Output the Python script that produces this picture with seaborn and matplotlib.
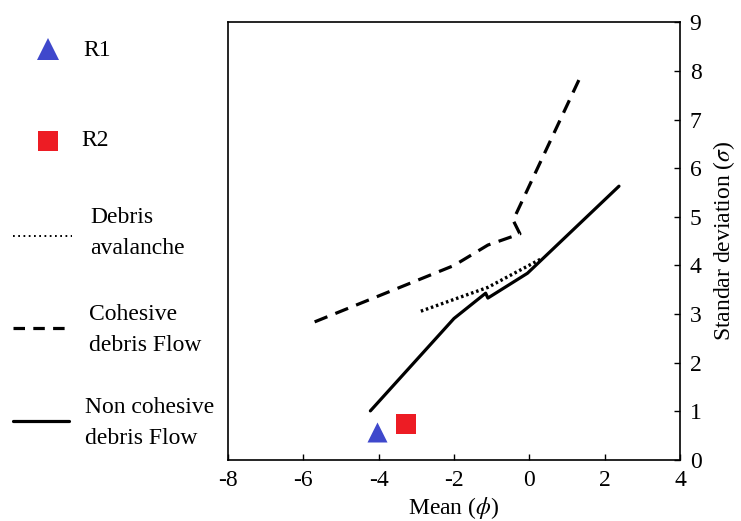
import numpy as np
import pandas as pd
import matplotlib
matplotlib.use('Agg')
import matplotlib.pyplot as plt
import seaborn as sns
from matplotlib.lines import Line2D

# ---- data ----
avalanche_x = [-2.88, -1.10, 0.30]
avalanche_y = [3.06, 3.55, 4.13]

cohesive_x = [-5.70, -2.00, -1.10, -0.25, -0.43, 1.38]
cohesive_y = [2.84, 4.00, 4.42, 4.65, 4.93, 7.92]

noncohesive_x = [-4.22, -2.00, -1.16, -1.10, -0.05, 2.38]
noncohesive_y = [1.01, 2.91, 3.43, 3.33, 3.84, 5.63]

r1_x, r1_y = [-4.04], [0.58]
r2_x, r2_y = [-3.28], [0.74]

xticks = [-8, -6, -4, -2, 0, 2, 4]
yticks = [0, 1, 2, 3, 4, 5, 6, 7, 8, 9]

legend_labels = ["R1", "R2", "Debris\navalanche", "Cohesive\ndebris Flow",
                 "Non cohesive\ndebris Flow"]

BLUE = "#3f48cc"
RED = "#ed1c24"
FS = 17

sns.set_theme(style="white")
plt.rcParams['font.family'] = ['Liberation Serif', 'DejaVu Serif']
plt.rcParams['mathtext.fontset'] = 'stix'

W, H = 741, 521
fig = plt.figure(figsize=(W / 100, H / 100), dpi=100)
ax = fig.add_axes([228 / W, 1 - 460 / H, (680 - 228) / W, (460 - 22.3) / H])

df_av = pd.DataFrame({"x": avalanche_x, "y": avalanche_y})
df_co = pd.DataFrame({"x": cohesive_x, "y": cohesive_y})
df_nc = pd.DataFrame({"x": noncohesive_x, "y": noncohesive_y})

sns.lineplot(data=df_av, x="x", y="y", sort=False, estimator=None, ax=ax,
             color="black", lw=2.4)
ax.lines[-1].set_dashes([0.75, 0.85])
sns.lineplot(data=df_co, x="x", y="y", sort=False, estimator=None, ax=ax,
             color="black", lw=2.3)
ax.lines[-1].set_dashes([4.3, 2.7])
sns.lineplot(data=df_nc, x="x", y="y", sort=False, estimator=None, ax=ax,
             color="black", lw=2.3)

sns.scatterplot(x=r1_x, y=r1_y, ax=ax, marker="^", s=14.4 ** 2, color=BLUE,
                linewidth=0, zorder=5)
sns.scatterplot(x=r2_x, y=r2_y, ax=ax, marker="s", s=13.7 ** 2, color=RED,
                linewidth=0, zorder=5)

ax.set_xlim(-8, 4)
ax.set_ylim(0, 9)
ax.set_xticks(xticks)
ax.set_yticks(yticks)
ax.set_xticklabels([str(t) for t in xticks])
ax.set_yticklabels([str(t) for t in yticks])
ax.yaxis.tick_right()
ax.yaxis.set_label_position("right")
ax.tick_params(axis="both", direction="in", length=4.5, width=1.0,
               color="black", labelsize=FS, labelcolor="black", pad=7)
ax.tick_params(axis="y", left=False, right=True)
ax.tick_params(axis="x", bottom=True, top=False)
for sp in ax.spines.values():
    sp.set_visible(True)
    sp.set_color("black")
    sp.set_linewidth(1.2)

ax.set_xlabel(r"Mean ($\phi$)", fontsize=FS, color="black", labelpad=3)
ax.set_ylabel(r"Standar deviation ($\sigma$)", fontsize=FS, color="black",
              labelpad=7)
if ax.get_legend() is not None:
    ax.get_legend().remove()


# ---- manual legend on the left (figure pixel coordinates) ----
def fx(x):
    return x / W


def fy(y):
    return 1 - y / H


tr = fig.transFigure
fig.add_artist(Line2D([fx(48)], [fy(49)], marker="^", markersize=16,
                      color=BLUE, markeredgewidth=0, linestyle="none",
                      transform=tr))
fig.add_artist(Line2D([fx(48)], [fy(140.5)], marker="s", markersize=15,
                      color=RED, markeredgewidth=0, linestyle="none",
                      transform=tr))
ld = Line2D([fx(13), fx(72)], [fy(236), fy(236)], color="black", lw=1.4,
            transform=tr)
ld.set_dashes([0.9, 1.8])
fig.add_artist(ld)
lc = Line2D([fx(13), fx(69)], [fy(328), fy(328)], color="black", lw=2.3,
            transform=tr)
lc.set_dashes([3.6, 2.6])
fig.add_artist(lc)
fig.add_artist(Line2D([fx(13), fx(69)], [fy(421), fy(421)], color="black",
                      lw=2.3, transform=tr))

text_pos = [(83, 50), (81, 141), (90, 233), (89, 330), (85, 423)]
for lab, (tx, ty) in zip(legend_labels, text_pos):
    fig.text(fx(tx), fy(ty), lab, fontsize=FS, color="black", ha="left",
             va="center", linespacing=1.6)

fig.savefig("out.png", dpi=100)
